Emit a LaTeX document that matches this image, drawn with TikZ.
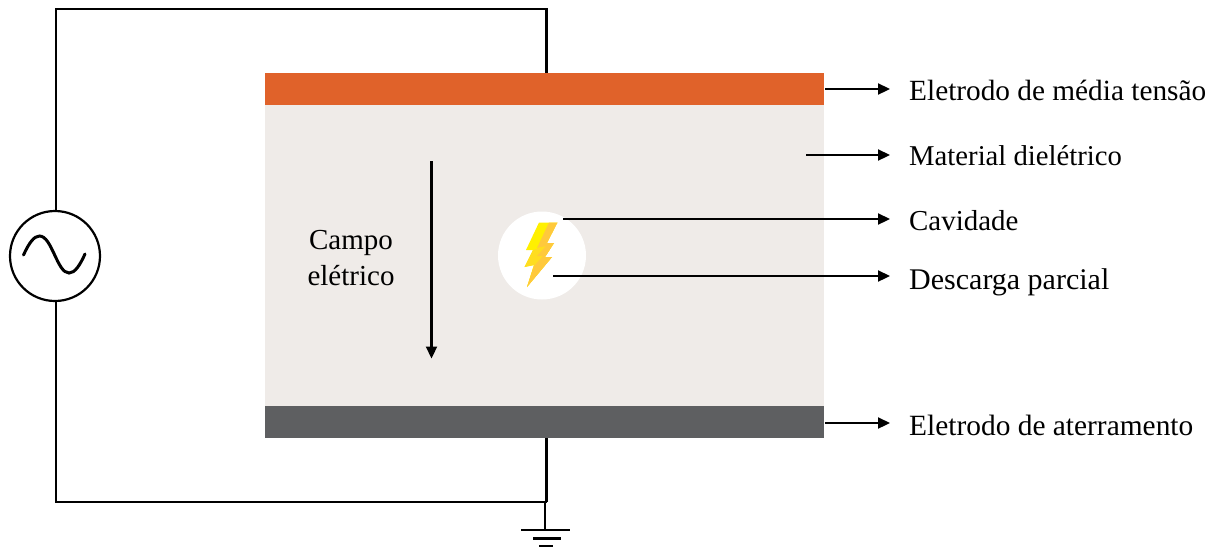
\documentclass[tikz,border=0pt]{standalone}
\usepackage{fontspec}
\setmainfont{Liberation Serif}
\usetikzlibrary{arrows.meta,calc}
\definecolor{hv}{HTML}{E0622A}
\definecolor{diel}{HTML}{EFEBE8}
\definecolor{gnd}{HTML}{5E5F61}
\definecolor{boltA}{HTML}{FFF000}
\definecolor{boltB}{HTML}{FFC93C}
\definecolor{boltC}{HTML}{FFDD20}
\tikzset{
  wire/.style={draw=black,line width=2.2pt},
  arr/.style={draw=black,line width=2.2pt,-{Triangle[length=12pt,width=11pt]}},
  lab/.style={anchor=west,inner sep=0pt,text=black},
  block/.style={anchor=north west,inner sep=0pt,minimum width=559.5pt,outer sep=0pt}
}
\newcommand{\fsz}[1]{\fontsize{#1}{36}\selectfont}
\begin{document}
\begin{tikzpicture}[x=1pt,y=-1pt]
\useasboundingbox (0,0) rectangle (1217,547);
\node[block,fill=diel,minimum height=333pt] (d) at (264.5,105) {};
\node[block,fill=hv,minimum height=32pt] (hv) at (264.5,73) {};
\node[block,fill=gnd,minimum height=32pt] (g) at (264.5,406) {};
% circuit
\node[circle,draw=black,line width=2.2pt,fill=white,minimum size=90pt,inner sep=0pt] (src) at (55,256) {};
\coordinate (tr) at (546.5,73);
\coordinate (j) at (546.5,502);
\coordinate (gt) at (545,530);
\draw[wire] (56,211) -- (56,9) -- (546.5,9) -- (tr);
\draw[wire] (56,301) -- (56,502) -- (j);
\draw[wire] (546.5,438) -- (j);
\draw[wire] (545,501) -- (gt);
\draw[wire] (521,530) -- (570,530);
\draw[wire] (533,538.5) -- (561,538.5);
\draw[wire] (539,546) -- (553,546);
\draw[line width=3pt,line cap=round] (23.5,255) .. controls (29,243) and (34,236) .. (39.5,236)
  .. controls (52,236) and (57,273) .. (69,273) .. controls (75,273) and (80,265) .. (85,254);
% cavity
\node[circle,fill=white,minimum size=88pt,inner sep=0pt] (cav) at (542,255.5) {};
\fill[boltA] (539,222.5) -- (557.5,222.5) -- (547,243) -- (554,243) -- (545,257) -- (552,257) -- (527,287) -- (534,265) -- (524.5,267) -- (533,250) -- (526,250) -- cycle;
\fill[boltC] (533,250) -- (554,243) -- (545,257) -- (552,257) -- (527,287) -- (534,265) -- (524.5,267) -- cycle;
\fill[boltB] (549,222.5) -- (557.5,222.5) -- (547,243) -- (554,243) -- (545,257) -- (552,257) -- (527,287) -- (534,266) -- (543,256) -- (537,256) -- (546,246) -- (537,248) -- cycle;
% arrows
\coordinate (f1) at (431.5,161);
\coordinate (f2) at (431.5,358.5);
\draw[arr] (f1) -- (f2);
\node[lab,anchor=center,align=center,font=\fsz{29}] (campo) at (351,258.5) {Campo\\elétrico};
\node[lab,font=\fsz{29.3}] (l1) at (909,90.5) {Eletrodo de média tensão};
\node[lab,font=\fsz{28.7}] (l2) at (909,155.5) {Material dielétrico};
\node[lab,font=\fsz{28.9}] (l3) at (909,220.5) {Cavidade};
\node[lab,font=\fsz{30}] (l4) at (909,282) {Descarga parcial};
\node[lab,font=\fsz{29.4}] (l5) at (909,425) {Eletrodo de aterramento};
\coordinate (e1) at (890,89);
\coordinate (e2) at (890,155);
\coordinate (e3) at (890,219);
\coordinate (e4) at (890,276);
\coordinate (e5) at (890,423);
\coordinate (s1) at (825,89);
\coordinate (s2) at (806,155);
\coordinate (s3) at (563,219);
\coordinate (s4) at (553,276);
\coordinate (s5) at (825,423);
\draw[arr] (s1) -- (e1);
\draw[arr] (s2) -- (e2);
\draw[arr] (s3) -- (e3);
\draw[arr] (s4) -- (e4);
\draw[arr] (s5) -- (e5);
\end{tikzpicture}
\end{document}
